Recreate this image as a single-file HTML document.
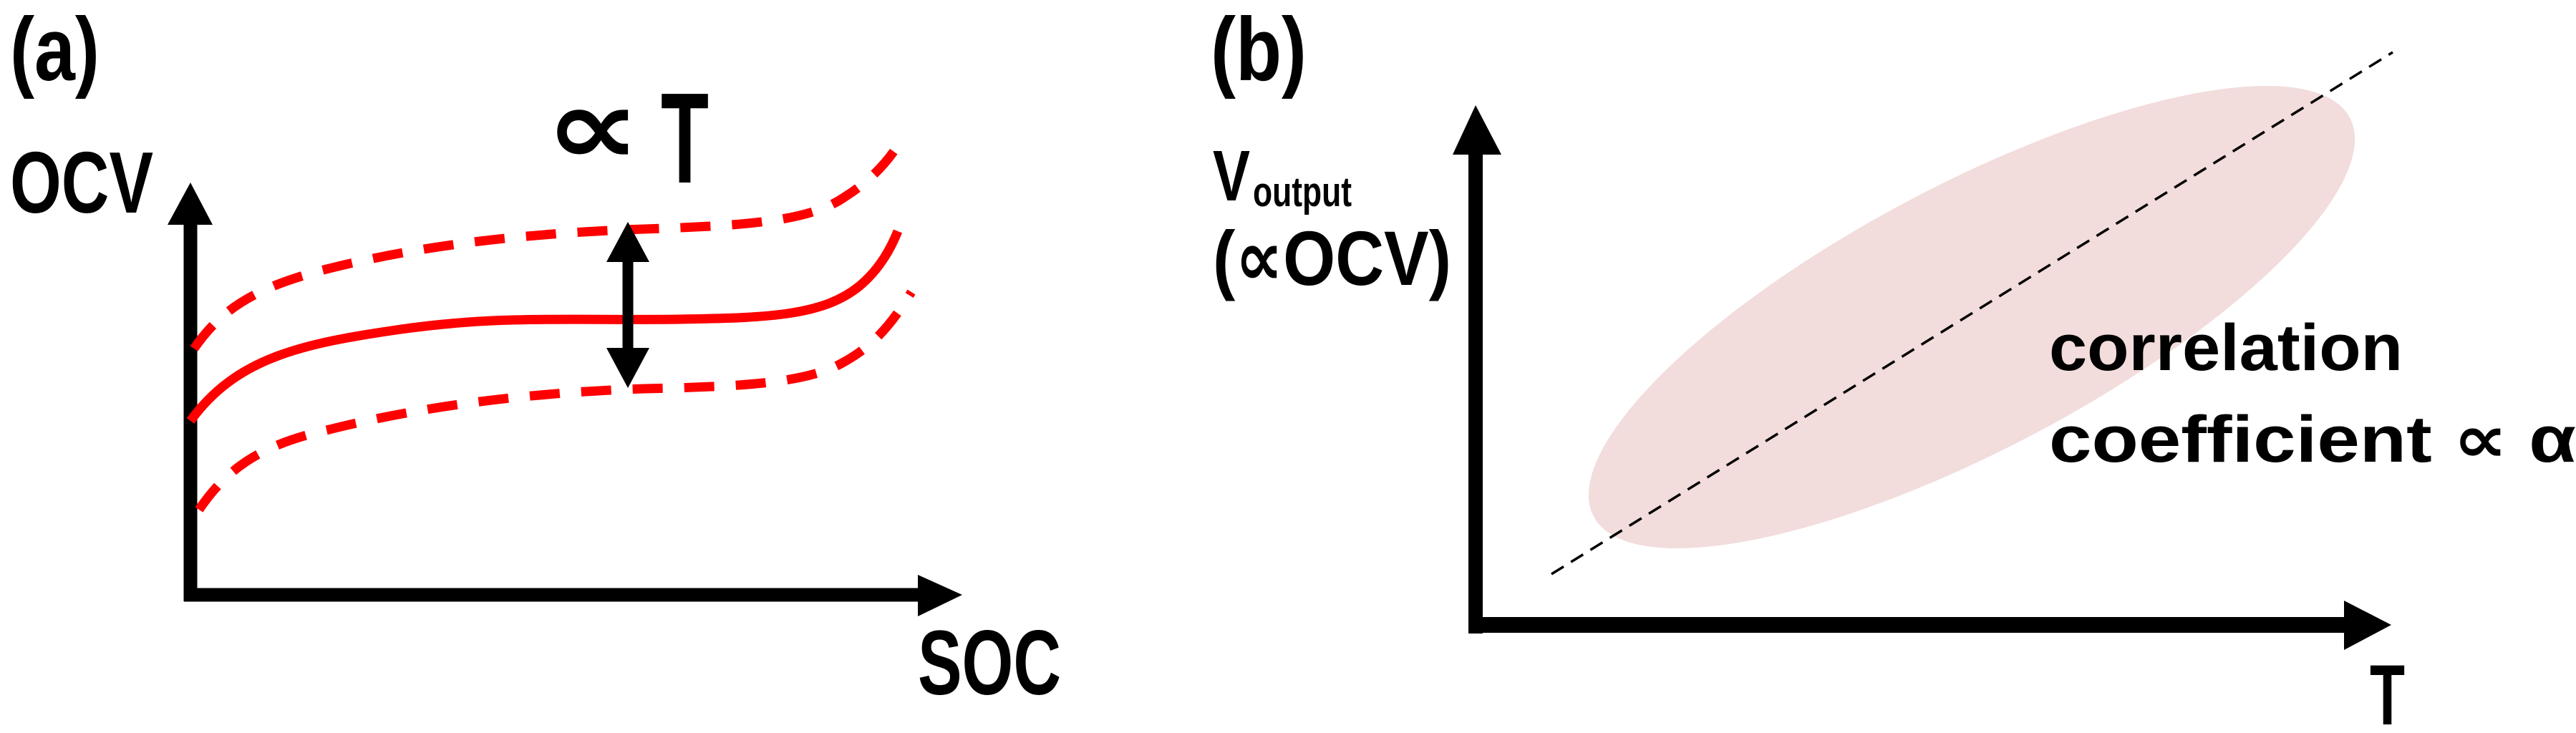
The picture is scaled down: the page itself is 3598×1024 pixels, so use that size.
<!DOCTYPE html>
<html><head><meta charset="utf-8"><style>html,body{margin:0;padding:0;background:#fff}svg{display:block}</style></head>
<body>
<svg width="3598" height="1024" viewBox="0 0 3598 1024" xmlns="http://www.w3.org/2000/svg" font-family="Liberation Sans, DejaVu Sans, sans-serif" font-weight="bold">
<rect width="3598" height="1024" fill="#fff"/>
<!-- Panel a -->
<text x="14" y="112" font-size="125" textLength="125" lengthAdjust="spacingAndGlyphs">(a)</text>
<text x="14" y="297" font-size="122" textLength="200" lengthAdjust="spacingAndGlyphs">OCV</text>
<text x="1282" y="970" font-size="128" textLength="200" lengthAdjust="spacingAndGlyphs">SOC</text>
<text x="761" y="229" font-size="150" font-family="DejaVu Sans, sans-serif" textLength="134" lengthAdjust="spacingAndGlyphs">∝</text>
<text x="923" y="255" font-size="180" textLength="67" lengthAdjust="spacingAndGlyphs">T</text>
<!-- axes a -->
<line x1="266" y1="300" x2="266" y2="840" stroke="#000" stroke-width="19"/>
<polygon points="266,255 234,314 297,314" fill="#000"/>
<line x1="257" y1="831" x2="1290" y2="831" stroke="#000" stroke-width="19"/>
<polygon points="1344,831 1282,803 1282,861" fill="#000"/>
<!-- curves -->
<path d="M266,588 C330,500 420,480 560,460 C700,440 800,448 950,446 C1080,444 1150,440 1200,400 C1230,375 1245,345 1254,323" fill="none" stroke="#f00" stroke-width="13"/>
<path d="M271,487 C310,430 360,400 460,375 C600,340 750,325 900,320 C1040,315 1130,310 1180,275 C1220,250 1245,220 1263,189" fill="none" stroke="#f00" stroke-width="13" stroke-dasharray="42,30"/>
<path d="M278,712 C320,650 370,620 460,600 C600,565 750,548 900,543 C1040,540 1130,535 1180,505 C1225,480 1250,445 1273,408" fill="none" stroke="#f00" stroke-width="13" stroke-dasharray="42,30"/>
<!-- double arrow -->
<line x1="877" y1="360" x2="877" y2="495" stroke="#000" stroke-width="15"/>
<polygon points="877,310 847,366 907,366" fill="#000"/>
<polygon points="877,542 847,486 907,486" fill="#000"/>
<!-- Panel b -->
<text x="1691" y="112" font-size="125" textLength="134" lengthAdjust="spacingAndGlyphs">(b)</text>
<text x="1694" y="280" font-size="100" textLength="52" lengthAdjust="spacingAndGlyphs">V</text>
<text x="1750" y="288" font-size="58" textLength="138" lengthAdjust="spacingAndGlyphs">output</text>
<text x="1694" y="398" font-size="108" textLength="333" lengthAdjust="spacingAndGlyphs">(∝OCV)</text>
<ellipse cx="2754" cy="443" rx="597" ry="185" transform="rotate(-27.8 2754 443)" fill="#f2dcdc"/>
<line x1="2167" y1="802" x2="3342" y2="73" stroke="#000" stroke-width="3.5" stroke-dasharray="20,12"/>
<line x1="2061" y1="190" x2="2061" y2="885" stroke="#000" stroke-width="20"/>
<polygon points="2061,147 2029,216 2097,216" fill="#000"/>
<line x1="2051" y1="873" x2="3285" y2="873" stroke="#000" stroke-width="22"/>
<polygon points="3340,873 3274,839 3274,908" fill="#000"/>
<text x="3310" y="1012" font-size="120" textLength="49" lengthAdjust="spacingAndGlyphs">T</text>
<text x="2862" y="517" font-size="92" textLength="494" lengthAdjust="spacingAndGlyphs">correlation</text>
<text x="2862" y="645" font-size="92" textLength="736" lengthAdjust="spacingAndGlyphs">coefficient ∝ α</text>
</svg>
</body></html>
